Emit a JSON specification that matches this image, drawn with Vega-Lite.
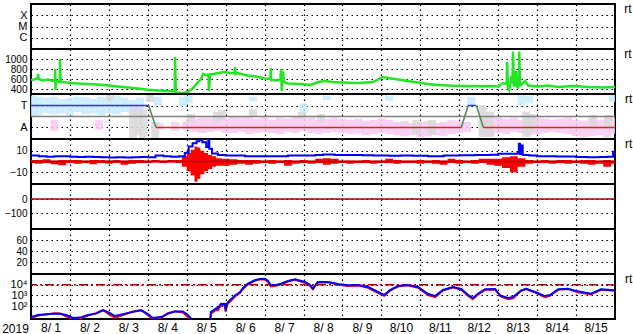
{
"$schema": "https://vega.github.io/schema/vega-lite/v6.json",
"padding": {"left": 0, "top": 2, "right": 0, "bottom": 0},
"background": "white",
"spacing": 0,
"bounds": "flush",
"config": {
  "view": {"stroke": "black", "strokeWidth": 2},
  "font": "Liberation Sans",
  "axisX": {"grid": true, "gridColor": "black", "gridDash": [1.5, 3.5], "gridWidth": 1.2, "gridOpacity": 1, "ticks": false, "domain": false, "labels": false, "title": null, "labelFlush": false, "labelOverlap": false},
  "axisY": {"grid": true, "gridColor": "black", "gridDash": [1.5, 3.5], "gridWidth": 1.2, "gridOpacity": 1, "ticks": false, "domain": false, "labelFontSize": 10, "labelColor": "black", "labelPadding": 4, "minExtent": 29, "maxExtent": 29, "title": null, "labelFlush": false, "labelOverlap": false},
  "title": {"fontSize": 12, "fontWeight": "normal", "color": "black"}
},
"datasets": {
  "speed": [
    {"day":1.0,"speed":580},{"day":1.08,"speed":590},{"day":1.17,"speed":610},{"day":1.18,"speed":700},{"day":1.2,"speed":600},{"day":1.31,"speed":570},{"day":1.44,"speed":590},{"day":1.57,"speed":560},{"day":1.61,"speed":570},{"day":1.62,"speed":800},{"day":1.63,"speed":380},{"day":1.64,"speed":560},{"day":1.74,"speed":540},{"day":1.745,"speed":1000},{"day":1.76,"speed":540},{"day":1.85,"speed":540},{"day":2.0,"speed":520},{"day":2.2,"speed":510},{"day":2.46,"speed":500},{"day":2.72,"speed":490},{"day":3.0,"speed":470},{"day":3.23,"speed":450},{"day":3.49,"speed":430},{"day":3.75,"speed":410},{"day":4.0,"speed":385},{"day":4.26,"speed":370},{"day":4.52,"speed":360},{"day":4.69,"speed":350},{"day":4.7,"speed":1040},{"day":4.72,"speed":330},{"day":4.9,"speed":320},{"day":5.03,"speed":340},{"day":5.16,"speed":420},{"day":5.29,"speed":540},{"day":5.37,"speed":600},{"day":5.42,"speed":700},{"day":5.5,"speed":680},{"day":5.56,"speed":690},{"day":5.57,"speed":360},{"day":5.6,"speed":690},{"day":5.7,"speed":700},{"day":5.8,"speed":720},{"day":5.98,"speed":740},{"day":6.11,"speed":720},{"day":6.23,"speed":720},{"day":6.24,"speed":840},{"day":6.25,"speed":700},{"day":6.32,"speed":720},{"day":6.45,"speed":690},{"day":6.57,"speed":670},{"day":6.78,"speed":650},{"day":7.01,"speed":610},{"day":7.15,"speed":600},{"day":7.16,"speed":820},{"day":7.17,"speed":580},{"day":7.34,"speed":570},{"day":7.41,"speed":600},{"day":7.42,"speed":800},{"day":7.44,"speed":360},{"day":7.47,"speed":750},{"day":7.5,"speed":540},{"day":7.6,"speed":510},{"day":7.94,"speed":500},{"day":8.19,"speed":480},{"day":8.37,"speed":540},{"day":8.55,"speed":560},{"day":8.76,"speed":540},{"day":9.01,"speed":530},{"day":9.4,"speed":520},{"day":9.78,"speed":540},{"day":10.04,"speed":640},{"day":10.17,"speed":620},{"day":10.43,"speed":590},{"day":10.68,"speed":560},{"day":10.94,"speed":530},{"day":11.2,"speed":500},{"day":11.45,"speed":480},{"day":11.71,"speed":470},{"day":11.97,"speed":460},{"day":12.23,"speed":460},{"day":12.48,"speed":455},{"day":12.74,"speed":460},{"day":13.0,"speed":450},{"day":13.12,"speed":520},{"day":13.22,"speed":500},{"day":13.23,"speed":940},{"day":13.25,"speed":420},{"day":13.28,"speed":380},{"day":13.33,"speed":600},{"day":13.37,"speed":520},{"day":13.38,"speed":1150},{"day":13.4,"speed":470},{"day":13.43,"speed":480},{"day":13.46,"speed":760},{"day":13.48,"speed":450},{"day":13.51,"speed":430},{"day":13.53,"speed":500},{"day":13.54,"speed":1150},{"day":13.56,"speed":470},{"day":13.59,"speed":480},{"day":13.69,"speed":560},{"day":13.77,"speed":470},{"day":14.02,"speed":450},{"day":14.28,"speed":470},{"day":14.54,"speed":440},{"day":14.92,"speed":460},{"day":15.31,"speed":440},{"day":15.69,"speed":430},{"day":16.0,"speed":440}
  ],
  "phi": [
    {"day":1.05,"lo":-0.05,"hi":1.9,"kind":"T"},{"day":1.2,"lo":0.1,"hi":1.8,"kind":"T"},{"day":1.4,"lo":0.3,"hi":1.7,"kind":"T"},{"day":1.6,"lo":0.2,"hi":1.8,"kind":"T"},{"day":1.8,"lo":0.3,"hi":1.6,"kind":"T"},{"day":2.0,"lo":0.1,"hi":1.7,"kind":"T"},{"day":2.2,"lo":0.4,"hi":1.8,"kind":"T"},{"day":2.4,"lo":0.2,"hi":1.75,"kind":"T"},{"day":2.6,"lo":0.3,"hi":1.6,"kind":"T"},{"day":2.8,"lo":0.1,"hi":1.8,"kind":"T"},{"day":3.0,"lo":0.3,"hi":1.7,"kind":"T"},{"day":3.2,"lo":0.2,"hi":1.9,"kind":"T"},{"day":3.4,"lo":0.4,"hi":1.7,"kind":"T"},{"day":3.6,"lo":0.3,"hi":1.5,"kind":"T"},{"day":3.8,"lo":0.5,"hi":1.7,"kind":"T"},
    {"day":4.26,"lo":1.0,"hi":1.8,"kind":"T"},{"day":4.9,"lo":0.9,"hi":1.8,"kind":"T"},{"day":5.05,"lo":1.2,"hi":1.9,"kind":"T"},{"day":6.7,"lo":1.4,"hi":1.8,"kind":"T"},{"day":8.0,"lo":0.3,"hi":1.2,"kind":"T"},{"day":8.6,"lo":1.5,"hi":1.9,"kind":"T"},{"day":10.2,"lo":1.4,"hi":1.9,"kind":"T"},{"day":12.3,"lo":1.0,"hi":1.8,"kind":"T"},{"day":13.6,"lo":1.0,"hi":1.96,"kind":"T"},{"day":13.8,"lo":1.2,"hi":1.9,"kind":"T"},{"day":15.95,"lo":1.3,"hi":1.96,"kind":"T"},
    {"day":1.6,"lo":-1.3,"hi":-0.3,"kind":"A"},{"day":2.75,"lo":-1.2,"hi":-0.3,"kind":"A"},{"day":3.75,"lo":-1.7,"hi":-1.2,"kind":"A"},{"day":4.3,"lo":-1.2,"hi":-0.6,"kind":"A"},{"day":4.7,"lo":-1.3,"hi":-0.5,"kind":"A"},
    {"day":5.0,"lo":-1.2,"hi":-0.4,"kind":"A"},{"day":5.2,"lo":-1.4,"hi":-0.2,"kind":"A"},{"day":5.4,"lo":-1.5,"hi":-0.1,"kind":"A"},{"day":5.6,"lo":-1.4,"hi":-0.1,"kind":"A"},{"day":5.8,"lo":-1.3,"hi":-0.3,"kind":"A"},{"day":6.0,"lo":-1.5,"hi":-0.2,"kind":"A"},{"day":6.2,"lo":-1.5,"hi":0.0,"kind":"A"},{"day":6.4,"lo":-1.4,"hi":-0.1,"kind":"A"},{"day":6.6,"lo":-1.6,"hi":-0.05,"kind":"A"},{"day":6.8,"lo":-1.5,"hi":-0.2,"kind":"A"},{"day":7.0,"lo":-1.4,"hi":-0.1,"kind":"A"},{"day":7.2,"lo":-1.5,"hi":-0.3,"kind":"A"},{"day":7.4,"lo":-1.6,"hi":-0.1,"kind":"A"},{"day":7.6,"lo":-1.4,"hi":-0.2,"kind":"A"},{"day":7.8,"lo":-1.5,"hi":0.05,"kind":"A"},{"day":8.0,"lo":-1.3,"hi":-0.2,"kind":"A"},{"day":8.2,"lo":-1.5,"hi":-0.1,"kind":"A"},{"day":8.4,"lo":-1.6,"hi":-0.3,"kind":"A"},{"day":8.6,"lo":-1.5,"hi":-0.2,"kind":"A"},{"day":8.8,"lo":-1.4,"hi":-0.1,"kind":"A"},{"day":9.0,"lo":-1.5,"hi":-0.2,"kind":"A"},{"day":9.2,"lo":-1.6,"hi":-0.3,"kind":"A"},{"day":9.4,"lo":-1.5,"hi":-0.2,"kind":"A"},{"day":9.6,"lo":-1.7,"hi":-0.4,"kind":"A"},{"day":9.8,"lo":-1.6,"hi":-0.3,"kind":"A"},{"day":10.0,"lo":-1.5,"hi":-0.2,"kind":"A"},{"day":10.2,"lo":-1.6,"hi":-0.3,"kind":"A"},{"day":10.4,"lo":-1.7,"hi":-0.5,"kind":"A"},{"day":10.6,"lo":-1.8,"hi":-0.4,"kind":"A"},{"day":10.8,"lo":-1.7,"hi":-0.6,"kind":"A"},{"day":11.0,"lo":-1.9,"hi":-0.5,"kind":"A"},{"day":11.2,"lo":-1.8,"hi":-0.4,"kind":"A"},{"day":11.4,"lo":-1.7,"hi":-0.6,"kind":"A"},{"day":11.6,"lo":-1.8,"hi":-0.5,"kind":"A"},{"day":11.8,"lo":-1.6,"hi":-0.3,"kind":"A"},{"day":12.0,"lo":-1.5,"hi":-0.4,"kind":"A"},{"day":12.2,"lo":-1.4,"hi":-0.5,"kind":"A"},{"day":12.6,"lo":-1.6,"hi":-0.2,"kind":"A"},{"day":12.8,"lo":-1.7,"hi":-0.3,"kind":"A"},{"day":13.0,"lo":-1.5,"hi":-0.1,"kind":"A"},{"day":13.2,"lo":-1.6,"hi":-0.2,"kind":"A"},{"day":13.4,"lo":-1.4,"hi":-0.1,"kind":"A"},{"day":13.6,"lo":-1.5,"hi":-0.3,"kind":"A"},{"day":13.8,"lo":-1.7,"hi":-0.2,"kind":"A"},{"day":14.0,"lo":-1.6,"hi":-0.1,"kind":"A"},{"day":14.2,"lo":-1.5,"hi":-0.2,"kind":"A"},{"day":14.4,"lo":-1.4,"hi":-0.3,"kind":"A"},{"day":14.6,"lo":-1.5,"hi":-0.2,"kind":"A"},{"day":14.8,"lo":-1.6,"hi":-0.1,"kind":"A"},{"day":15.0,"lo":-1.8,"hi":-0.3,"kind":"A"},{"day":15.2,"lo":-1.9,"hi":-0.4,"kind":"A"},{"day":15.4,"lo":-1.8,"hi":-0.2,"kind":"A"},{"day":15.6,"lo":-1.7,"hi":-0.3,"kind":"A"},{"day":15.8,"lo":-1.9,"hi":-0.2,"kind":"A"},{"day":15.95,"lo":-1.6,"hi":-0.1,"kind":"A"},
    {"day":3.03,"lo":1.5,"hi":1.96,"kind":"U"},{"day":3.62,"lo":-1.96,"hi":1.05,"kind":"U"},{"day":3.75,"lo":-1.41,"hi":0.87,"kind":"U"},{"day":3.88,"lo":-2.0,"hi":0.59,"kind":"U"},{"day":4.06,"lo":1.32,"hi":1.96,"kind":"U"},{"day":4.19,"lo":-2.0,"hi":-0.5,"kind":"U"},{"day":5.11,"lo":-0.5,"hi":0.23,"kind":"U"},{"day":5.78,"lo":-0.5,"hi":0.41,"kind":"U"},{"day":5.9,"lo":-0.32,"hi":0.59,"kind":"U"},{"day":6.7,"lo":-0.04,"hi":0.68,"kind":"U"},{"day":7.96,"lo":-0.23,"hi":0.41,"kind":"U"},{"day":8.45,"lo":-0.5,"hi":0.23,"kind":"U"},{"day":10.9,"lo":-1.68,"hi":-0.32,"kind":"U"},{"day":11.3,"lo":-1.68,"hi":-0.32,"kind":"U"},{"day":12.61,"lo":-1.87,"hi":1.05,"kind":"U"},{"day":12.79,"lo":-1.87,"hi":0.41,"kind":"U"},{"day":13.72,"lo":-1.87,"hi":0.41,"kind":"U"},{"day":13.85,"lo":-1.41,"hi":0.23,"kind":"U"},{"day":15.44,"lo":-1.14,"hi":0.14,"kind":"U"},{"day":15.82,"lo":-0.96,"hi":0.14,"kind":"U"}
  ],
  "sector": [
    {"day":1,"sector":1,"seg":"s1","pol":"T"},{"day":4.02,"sector":1,"seg":"s1","pol":"T"},
    {"day":4.02,"sector":1,"seg":"s2","pol":"X"},{"day":4.21,"sector":-1,"seg":"s2","pol":"X"},
    {"day":4.21,"sector":-1,"seg":"s3","pol":"A"},{"day":12.05,"sector":-1,"seg":"s3","pol":"A"},
    {"day":12.05,"sector":-1,"seg":"s4","pol":"X"},{"day":12.23,"sector":1,"seg":"s4","pol":"X"},
    {"day":12.23,"sector":1,"seg":"s5","pol":"T"},{"day":12.44,"sector":1,"seg":"s5","pol":"T"},
    {"day":12.44,"sector":1,"seg":"s6","pol":"X"},{"day":12.62,"sector":-1,"seg":"s6","pol":"X"},
    {"day":12.62,"sector":-1,"seg":"s7","pol":"A"},{"day":16,"sector":-1,"seg":"s7","pol":"A"}
  ],
  "bz": [
    {"day":1.0,"lo":-1.5,"hi":1.5},{"day":1.2,"lo":-2,"hi":1.5},{"day":1.4,"lo":-1.5,"hi":2},{"day":1.6,"lo":-2.5,"hi":1},{"day":1.8,"lo":-3.5,"hi":1.5},{"day":2.0,"lo":-1.5,"hi":1.5},{"day":2.2,"lo":-2,"hi":1.5},{"day":2.4,"lo":-1.5,"hi":1},{"day":2.6,"lo":-2.5,"hi":1.5},{"day":2.8,"lo":-1.5,"hi":1.5},{"day":3.0,"lo":-2,"hi":1},{"day":3.2,"lo":-1.5,"hi":1.5},{"day":3.4,"lo":-3,"hi":1},{"day":3.6,"lo":-2,"hi":1.5},{"day":3.8,"lo":-1.5,"hi":1.5},{"day":4.0,"lo":-1.5,"hi":1},{"day":4.2,"lo":-1,"hi":1.5},{"day":4.4,"lo":-1.5,"hi":1},{"day":4.6,"lo":-1,"hi":1.5},{"day":4.8,"lo":-1.5,"hi":1.5},{"day":4.95,"lo":-5,"hi":5},{"day":5.05,"lo":-9,"hi":8},{"day":5.15,"lo":-13,"hi":11},{"day":5.25,"lo":-19,"hi":14},{"day":5.3,"lo":-16,"hi":13},{"day":5.4,"lo":-12,"hi":10},{"day":5.5,"lo":-9,"hi":8},{"day":5.6,"lo":-7,"hi":6},{"day":5.7,"lo":-5,"hi":5},{"day":5.8,"lo":-4,"hi":3},{"day":6.0,"lo":-4,"hi":2.5},{"day":6.2,"lo":-3,"hi":2},{"day":6.4,"lo":-2,"hi":1.5},{"day":6.6,"lo":-3,"hi":1.5},{"day":6.8,"lo":-2,"hi":1.5},{"day":7.0,"lo":-1.5,"hi":1},{"day":7.2,"lo":-2,"hi":1.5},{"day":7.4,"lo":-1.5,"hi":1},{"day":7.6,"lo":-4,"hi":1.5},{"day":7.8,"lo":-2,"hi":1},{"day":8.0,"lo":-1.5,"hi":1.5},{"day":8.2,"lo":-2,"hi":1},{"day":8.4,"lo":-1.5,"hi":2.5},{"day":8.6,"lo":-3,"hi":3},{"day":8.8,"lo":-2,"hi":2.5},{"day":9.0,"lo":-1.5,"hi":1},{"day":9.2,"lo":-2,"hi":1},{"day":9.4,"lo":-1.5,"hi":1},{"day":9.6,"lo":-1.5,"hi":1.5},{"day":9.8,"lo":-2,"hi":1},{"day":10.0,"lo":-1.5,"hi":1},{"day":10.2,"lo":-1.5,"hi":2.5},{"day":10.4,"lo":-2,"hi":1.5},{"day":10.6,"lo":-1.5,"hi":1},{"day":10.8,"lo":-1.5,"hi":1},{"day":11.0,"lo":-2,"hi":1.5},{"day":11.2,"lo":-1.5,"hi":1},{"day":11.4,"lo":-2,"hi":1.5},{"day":11.6,"lo":-3,"hi":1},{"day":11.8,"lo":-1.5,"hi":2.5},{"day":12.0,"lo":-2,"hi":1.5},{"day":12.2,"lo":-1.5,"hi":1},{"day":12.4,"lo":-2,"hi":1.5},{"day":12.6,"lo":-1.5,"hi":2.5},{"day":12.8,"lo":-3,"hi":2.5},{"day":13.0,"lo":-4,"hi":2.5},{"day":13.2,"lo":-6,"hi":4},{"day":13.4,"lo":-10,"hi":5},{"day":13.6,"lo":-5,"hi":3},{"day":13.8,"lo":-2,"hi":1.5},{"day":14.0,"lo":-1.5,"hi":1},{"day":14.2,"lo":-1.5,"hi":1.5},{"day":14.4,"lo":-2,"hi":1},{"day":14.6,"lo":-1.5,"hi":1.5},{"day":14.8,"lo":-2,"hi":1.5},{"day":15.0,"lo":-1.5,"hi":1},{"day":15.2,"lo":-2,"hi":1.5},{"day":15.4,"lo":-3,"hi":1.5},{"day":15.6,"lo":-2,"hi":1},{"day":15.8,"lo":-5,"hi":1.5},{"day":16.0,"lo":-2,"hi":1}
  ],
  "bt": [
    {"day":1.0,"bt":5.5},{"day":1.2,"bt":5},{"day":1.4,"bt":4.5},{"day":1.6,"bt":4.8},{"day":1.8,"bt":5},{"day":2.0,"bt":4.5},{"day":2.2,"bt":4.2},{"day":2.4,"bt":4.5},{"day":2.6,"bt":4.3},{"day":2.8,"bt":4},{"day":3.0,"bt":3.8},{"day":3.2,"bt":4},{"day":3.4,"bt":3.8},{"day":3.6,"bt":4},{"day":3.8,"bt":4.2},{"day":4.0,"bt":4},{"day":4.2,"bt":5.5},{"day":4.4,"bt":4.8},{"day":4.6,"bt":4.5},{"day":4.8,"bt":5},{"day":4.95,"bt":8},{"day":5.05,"bt":14},{"day":5.15,"bt":17},{"day":5.25,"bt":19},{"day":5.32,"bt":20},{"day":5.4,"bt":18},{"day":5.5,"bt":13.5},{"day":5.555,"bt":21},{"day":5.58,"bt":12},{"day":5.65,"bt":7.5},{"day":5.8,"bt":6},{"day":6.0,"bt":5.5},{"day":6.2,"bt":5.5},{"day":6.5,"bt":5},{"day":7.0,"bt":4.8},{"day":7.3,"bt":5},{"day":7.6,"bt":5.5},{"day":8.0,"bt":5.5},{"day":8.3,"bt":6},{"day":8.5,"bt":6.5},{"day":8.8,"bt":6},{"day":9.2,"bt":6},{"day":9.5,"bt":5.8},{"day":9.8,"bt":5.5},{"day":10.2,"bt":5.3},{"day":10.5,"bt":5.5},{"day":10.8,"bt":5.3},{"day":11.2,"bt":5},{"day":11.6,"bt":5.5},{"day":12.0,"bt":5.8},{"day":12.4,"bt":6},{"day":12.8,"bt":6.3},{"day":13.0,"bt":7.3},{"day":13.3,"bt":7.3},{"day":13.5,"bt":8},{"day":13.53,"bt":16.6},{"day":13.56,"bt":7},{"day":13.6,"bt":15},{"day":13.63,"bt":6},{"day":13.8,"bt":5.5},{"day":14.0,"bt":5},{"day":14.5,"bt":4.6},{"day":15.0,"bt":4.3},{"day":15.3,"bt":4},{"day":15.6,"bt":4.2},{"day":15.8,"bt":4.5},{"day":15.95,"bt":9},{"day":16.0,"bt":6}
  ],
  "flux": [
    {"day":1.0,"e2b":9.5,"e2r":8},{"day":1.18,"e2b":15,"e2r":13},{"day":1.44,"e2b":18,"e2r":17},{"day":1.6,"e2b":20,"e2r":22},{"day":1.745,"e2b":19.5,"e2r":21},{"day":1.9,"e2b":15,"e2r":11},{"day":2.08,"e2b":7.8,"e2r":6.5},{"day":2.26,"e2b":8.5,"e2r":7},{"day":2.46,"e2b":15,"e2r":13},{"day":2.67,"e2b":20,"e2r":22},{"day":2.85,"e2b":41,"e2r":44},{"day":2.98,"e2b":28,"e2r":20},{"day":3.16,"e2b":12,"e2r":8},{"day":3.36,"e2b":18,"e2r":15},{"day":3.62,"e2b":29,"e2r":31},{"day":3.83,"e2b":41,"e2r":44},{"day":4.0,"e2b":19.5,"e2r":14},{"day":4.13,"e2b":7.8,"e2r":6.5},{"day":4.34,"e2b":9.5,"e2r":8},{"day":4.52,"e2b":20,"e2r":22},{"day":4.7,"e2b":32,"e2r":34},{"day":4.9,"e2b":32,"e2r":26},{"day":5.03,"e2b":15,"e2r":10},{"day":5.11,"e2b":7,"e2r":5},{"day":5.16,"e2b":3,"e2r":3},{"day":5.6,"e2b":3,"e2r":3},{"day":5.62,"e2b":28,"e2r":20},{"day":5.75,"e2b":60,"e2r":45},{"day":5.8,"e2b":66,"e2r":40},{"day":5.88,"e2b":166,"e2r":120},{"day":5.98,"e2b":158,"e2r":110},{"day":6.0,"e2b":40,"e2r":30},{"day":6.03,"e2b":160,"e2r":120},{"day":6.06,"e2b":240,"e2r":180},{"day":6.15,"e2b":500,"e2r":350},{"day":6.24,"e2b":1000,"e2r":800},{"day":6.37,"e2b":2100,"e2r":1800},{"day":6.47,"e2b":6100,"e2r":5000},{"day":6.57,"e2b":12500,"e2r":11000},{"day":6.75,"e2b":26000,"e2r":24000},{"day":6.88,"e2b":34000,"e2r":32000},{"day":7.01,"e2b":36000,"e2r":30000},{"day":7.09,"e2b":22000,"e2r":17000},{"day":7.16,"e2b":8800,"e2r":7000},{"day":7.29,"e2b":9400,"e2r":8000},{"day":7.42,"e2b":12500,"e2r":11000},{"day":7.6,"e2b":22000,"e2r":20000},{"day":7.78,"e2b":32000,"e2r":29000},{"day":8.04,"e2b":18000,"e2r":15000},{"day":8.17,"e2b":9400,"e2r":7800},{"day":8.24,"e2b":4200,"e2r":3800},{"day":8.32,"e2b":11500,"e2r":9500},{"day":8.37,"e2b":18000,"e2r":16000},{"day":8.63,"e2b":18000,"e2r":16500},{"day":8.89,"e2b":11500,"e2r":10000},{"day":9.14,"e2b":8800,"e2r":7600},{"day":9.4,"e2b":9400,"e2r":8600},{"day":9.66,"e2b":6100,"e2r":5200},{"day":9.91,"e2b":2100,"e2r":1700},{"day":10.07,"e2b":1100,"e2r":900},{"day":10.22,"e2b":3200,"e2r":2800},{"day":10.43,"e2b":7600,"e2r":7000},{"day":10.68,"e2b":9400,"e2r":8800},{"day":10.94,"e2b":6100,"e2r":5200},{"day":11.2,"e2b":1350,"e2r":1100},{"day":11.38,"e2b":870,"e2r":700},{"day":11.58,"e2b":3200,"e2r":2800},{"day":11.84,"e2b":6100,"e2r":5600},{"day":12.05,"e2b":4000,"e2r":3400},{"day":12.23,"e2b":1100,"e2r":900},{"day":12.35,"e2b":570,"e2r":450},{"day":12.48,"e2b":1450,"e2r":1200},{"day":12.66,"e2b":3700,"e2r":3300},{"day":12.92,"e2b":4000,"e2r":3500},{"day":13.05,"e2b":1000,"e2r":850},{"day":13.25,"e2b":570,"e2r":450},{"day":13.38,"e2b":700,"e2r":550},{"day":13.59,"e2b":3000,"e2r":2700},{"day":13.72,"e2b":4200,"e2r":3900},{"day":13.95,"e2b":2100,"e2r":1800},{"day":14.2,"e2b":870,"e2r":700},{"day":14.33,"e2b":1100,"e2r":900},{"day":14.54,"e2b":3700,"e2r":3300},{"day":14.79,"e2b":4200,"e2r":3900},{"day":15.05,"e2b":2400,"e2r":2000},{"day":15.38,"e2b":1450,"e2r":1200},{"day":15.64,"e2b":3700,"e2r":3400},{"day":16.0,"e2b":3000,"e2r":2800}
  ]
},
"vconcat": [
  {
    "width": 584, "height": 45,
    "title": {"text": "rt", "orient": "right", "anchor": "start", "angle": 0, "align": "left", "baseline": "top", "offset": 2},
    "data": {"values": []},
    "mark": {"type": "point", "opacity": 0},
    "encoding": {
      "x": {"field": "day", "type": "quantitative", "scale": {"domain": [1, 16], "nice": false, "zero": false}, "axis": {"values": [1,2,3,4,5,6,7,8,9,10,11,12,13,14,15]}},
      "y": {"field": "xray", "type": "quantitative", "scale": {"domain": [0, 4], "nice": false, "zero": false}, "axis": {"values": [1, 2, 3], "labelFontSize": 11, "labelExpr": "datum.value == 1 ? 'C' : datum.value == 2 ? 'M' : 'X'"}}
    }
  },
  {
    "width": 584, "height": 45,
    "title": {"text": "rt", "orient": "right", "anchor": "start", "angle": 0, "align": "left", "baseline": "top", "offset": 2},
    "data": {"name": "speed"},
    "mark": {"type": "line", "color": "#22e622", "strokeWidth": 2.5, "clip": true},
    "encoding": {
      "x": {"field": "day", "type": "quantitative", "scale": {"domain": [1, 16], "nice": false, "zero": false}, "axis": {"values": [1,2,3,4,5,6,7,8,9,10,11,12,13,14,15]}},
      "y": {"field": "speed", "type": "quantitative", "scale": {"domain": [300, 1200], "nice": false, "zero": false}, "axis": {"values": [400, 600, 800, 1000], "format": "d"}}
    }
  },
  {
    "width": 584, "height": 45,
    "title": {"text": "rt", "orient": "right", "anchor": "start", "angle": 0, "align": "left", "baseline": "top", "offset": 2},
    "layer": [
      {
        "data": {"name": "phi"},
        "mark": {"type": "rule", "opacity": 0.85, "clip": true},
        "encoding": {
          "x": {"field": "day", "type": "quantitative", "scale": {"domain": [1, 16], "nice": false, "zero": false}, "axis": {"values": [1,2,3,4,5,6,7,8,9,10,11,12,13,14,15]}},
          "y": {"field": "lo", "type": "quantitative", "scale": {"domain": [-2.05, 2.05], "nice": false, "zero": false}, "axis": {"values": [1, -1], "labelFontSize": 11, "labelExpr": "datum.value > 0 ? 'T' : 'A'"}},
          "y2": {"field": "hi"},
          "size": {"field": "kind", "type": "nominal", "scale": {"domain": ["T", "A", "U"], "range": [8, 8, 3]}, "legend": null},
          "color": {"field": "kind", "type": "nominal", "scale": {"domain": ["T", "A", "U"], "range": ["#c4ebfb", "#f7c9f2", "#d8d8d8"]}, "legend": null}
        }
      },
      {
        "data": {"values": [{}]},
        "mark": {"type": "rule", "color": "#808080", "strokeWidth": 1.5},
        "encoding": {"y": {"datum": 0}}
      },
      {
        "data": {"name": "sector"},
        "mark": {"type": "line", "strokeWidth": 1.5, "clip": true},
        "encoding": {
          "x": {"field": "day", "type": "quantitative"},
          "y": {"field": "sector", "type": "quantitative"},
          "detail": {"field": "seg"},
          "color": {"field": "pol", "type": "nominal", "scale": {"domain": ["T", "A", "X"], "range": ["#3333dd", "#dd2222", "#4a8a4a"]}, "legend": null}
        }
      }
    ],
    "resolve": {"scale": {"color": "independent"}}
  },
  {
    "width": 584, "height": 45,
    "title": {"text": "rt", "orient": "right", "anchor": "start", "angle": 0, "align": "left", "baseline": "top", "offset": 2},
    "layer": [
      {
        "data": {"name": "bz"},
        "mark": {"type": "area", "color": "#ff0000", "interpolate": "step", "opacity": 1, "clip": true},
        "encoding": {
          "x": {"field": "day", "type": "quantitative", "scale": {"domain": [1, 16], "nice": false, "zero": false}, "axis": {"values": [1,2,3,4,5,6,7,8,9,10,11,12,13,14,15]}},
          "y": {"field": "lo", "type": "quantitative", "scale": {"domain": [-21, 21], "nice": false, "zero": false}, "axis": {"values": [10, 0, -10]}},
          "y2": {"field": "hi"}
        }
      },
      {
        "data": {"values": [{}]},
        "mark": {"type": "rule", "color": "#a00000", "strokeWidth": 1.5},
        "encoding": {"y": {"datum": 0}}
      },
      {
        "data": {"name": "bt"},
        "mark": {"type": "line", "color": "#0000ff", "strokeWidth": 2, "interpolate": "step-after", "clip": true},
        "encoding": {
          "x": {"field": "day", "type": "quantitative"},
          "y": {"field": "bt", "type": "quantitative"}
        }
      }
    ]
  },
  {
    "width": 584, "height": 45,
    "layer": [
      {
        "data": {"values": []},
        "mark": {"type": "point", "opacity": 0},
        "encoding": {
          "x": {"field": "day", "type": "quantitative", "scale": {"domain": [1, 16], "nice": false, "zero": false}, "axis": {"values": [1,2,3,4,5,6,7,8,9,10,11,12,13,14,15]}},
          "y": {"field": "dst", "type": "quantitative", "scale": {"domain": [-210, 105], "nice": false, "zero": false}, "axis": {"values": [0, -100]}}
        }
      },
      {
        "data": {"values": [{}]},
        "mark": {"type": "rule", "color": "#a00000", "strokeWidth": 1.5},
        "encoding": {"y": {"datum": 0}}
      }
    ]
  },
  {
    "width": 584, "height": 45,
    "data": {"values": []},
    "mark": {"type": "point", "opacity": 0},
    "encoding": {
      "x": {"field": "day", "type": "quantitative", "scale": {"domain": [1, 16], "nice": false, "zero": false}, "axis": {"values": [1,2,3,4,5,6,7,8,9,10,11,12,13,14,15]}},
      "y": {"field": "kp", "type": "quantitative", "scale": {"domain": [-2, 80.5], "nice": false, "zero": false}, "axis": {"values": [20, 40, 60]}}
    }
  },
  {
    "width": 584, "height": 45,
    "title": {"text": "rt", "orient": "right", "anchor": "start", "angle": 0, "align": "left", "baseline": "top", "offset": 2},
    "layer": [
      {
        "data": {"values": [{}]},
        "mark": {"type": "rule", "color": "#b00000", "strokeWidth": 1.5, "strokeDash": [9, 3, 2, 3]},
        "encoding": {"y": {"datum": 10000, "type": "quantitative"}}
      },
      {
        "data": {"name": "flux"},
        "mark": {"type": "line", "color": "#ff0000", "strokeWidth": 2, "clip": true},
        "encoding": {
          "x": {"field": "day", "type": "quantitative", "scale": {"domain": [1, 16], "nice": false, "zero": false}, "axis": {"values": [1,2,3,4,5,6,7,8,9,10,11,12,13,14,15], "labels": true, "labelExpr": "'8/' + (datum.value < 10 ? ' ' + datum.value : datum.value)", "labelOffset": 19.5, "labelPadding": 3, "labelFontSize": 12, "labelColor": "black", "labelBaseline": "top", "title": "2019", "titleX": -16, "titleY": 4, "titleAlign": "center", "titleBaseline": "top", "titleFontSize": 12, "titleFontWeight": "normal", "titleColor": "black"}},
          "y": {"field": "e2r", "type": "quantitative", "scale": {"type": "log", "domain": [6.3, 100000], "nice": false}, "axis": {"values": [100, 1000, 10000], "labelFontSize": 11, "labelExpr": "datum.value == 10000 ? '10⁴' : datum.value == 1000 ? '10³' : '10²'"}}
        }
      },
      {
        "data": {"name": "flux"},
        "mark": {"type": "line", "color": "#0000ff", "strokeWidth": 2, "clip": true},
        "encoding": {
          "x": {"field": "day", "type": "quantitative"},
          "y": {"field": "e2b", "type": "quantitative"}
        }
      }
    ]
  }
]
}
